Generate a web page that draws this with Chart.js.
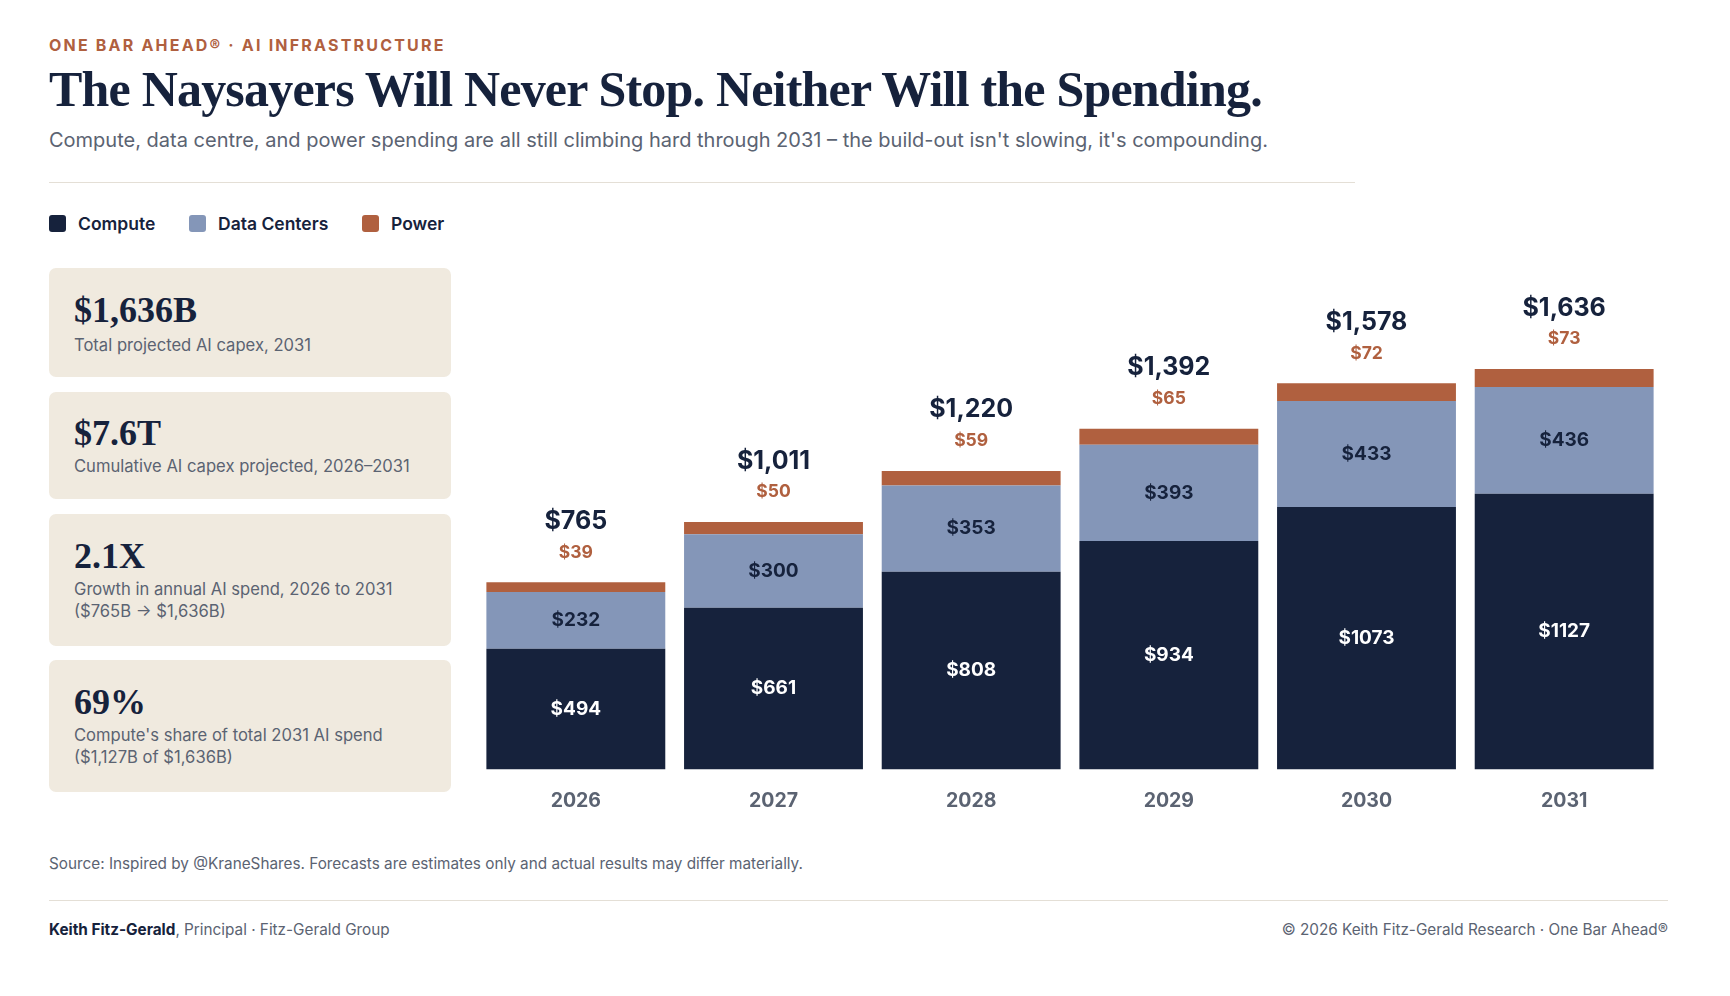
<!DOCTYPE html>
<html>
<head>
<meta charset="utf-8">
<script src="https://cdn.jsdelivr.net/npm/chart.js@4.4.1/dist/chart.umd.min.js"></script>
<style>
  html, body { margin:0; padding:0; background:#ffffff; }
  body { width:1730px; height:996px; position:relative; overflow:hidden; font-family: Inter, "Noto Sans", sans-serif; color:#16223c; }
  .abs { position:absolute; white-space:nowrap; }
  .eyebrow { left:49px; top:35px; line-height:20px; font-size:16px; font-weight:700; letter-spacing:2.2px; color:#b0603f; }
  .title { left:49px; top:59px; line-height:60px; font-family:"Liberation Serif", "DejaVu Serif", serif; font-weight:700; font-size:50px; letter-spacing:-0.8px; color:#16223c; }
  .subtitle { left:49px; top:127px; line-height:26px; font-size:20px; color:#5b6372; }
  .rule1 { left:49px; top:182px; width:1306px; height:1px; background:#e4dfd6; }
  .legend { top:212px; height:22px; display:flex; align-items:center; font-size:17.5px; font-weight:600; color:#16223c; }
  .legend .sw { width:17px; height:17px; border-radius:3px; margin-right:12px; }
  .card { position:absolute; left:49px; width:402px; background:#f0eadf; border-radius:7px; }
  .card .num { position:absolute; left:25px; top:22px; line-height:40px; font-family:"Liberation Serif", "DejaVu Serif", serif; font-weight:700; font-size:36px; color:#16223c; white-space:nowrap; }
  .card .lbl { position:absolute; left:25px; top:66px; line-height:22px; font-size:16.6px; color:#5b6372; white-space:nowrap; }
  .source { left:49px; top:853px; line-height:22px; font-size:15.3px; color:#5b6372; }
  .rule2 { left:49px; top:900px; width:1619px; height:1px; background:#e4dfd6; }
  .foot { top:919px; line-height:22px; font-size:15.3px; color:#5b6372; }
  .foot b { color:#16223c; font-weight:700; }
  #wrap { position:absolute; left:477px; top:240px; width:1186px; height:591px; }
</style>
</head>
<body>
<div class="abs eyebrow">ONE BAR AHEAD® · AI INFRASTRUCTURE</div>
<div class="abs title">The Naysayers Will Never Stop. Neither Will the Spending.</div>
<div class="abs subtitle">Compute, data centre, and power spending are all still climbing hard through 2031 – the build-out isn't slowing, it's compounding.</div>
<div class="abs rule1"></div>

<div class="abs legend" style="left:49px;"><span class="sw" style="background:#16223c"></span>Compute</div>
<div class="abs legend" style="left:189px;"><span class="sw" style="background:#8496b8"></span>Data Centers</div>
<div class="abs legend" style="left:362px;"><span class="sw" style="background:#b0603f"></span>Power</div>

<div class="card" style="top:268px;height:109px;"><div class="num">$1,636B</div><div class="lbl">Total projected AI capex, 2031</div></div>
<div class="card" style="top:392px;height:107px;"><div class="num" style="top:21px">$7.6T</div><div class="lbl" style="top:63px">Cumulative AI capex projected, 2026–2031</div></div>
<div class="card" style="top:514px;height:132px;"><div class="num">2.1X</div><div class="lbl" style="top:64px">Growth in annual AI spend, 2026 to 2031<br>($765B → $1,636B)</div></div>
<div class="card" style="top:660px;height:132px;"><div class="num">69%</div><div class="lbl" style="top:64px">Compute's share of total 2031 AI spend<br>($1,127B of $1,636B)</div></div>

<div id="wrap"><canvas id="c"></canvas></div>

<div class="abs source">Source: Inspired by @KraneShares. Forecasts are estimates only and actual results may differ materially.</div>
<div class="abs rule2"></div>
<div class="abs foot" style="left:49px;"><b>Keith Fitz-Gerald</b>, Principal · Fitz-Gerald Group</div>
<div class="abs foot" style="right:62px;">© 2026 Keith Fitz-Gerald Research · One Bar Ahead®</div>

<script>
const years = ['2026', '2027', '2028', '2029', '2030', '2031'];
const compute = [494, 661, 808, 934, 1073, 1127];
const dataCenters = [232, 300, 353, 393, 433, 436];
const power = [39, 50, 59, 65, 72, 73];

const NAVY = '#16223c', SLATE = '#8496b8', RUST = '#b0603f', GRAY = '#5b6372';

const labelPlugin = {
  id: 'barLabels',
  afterDatasetsDraw(chart) {
    const ctx = chart.ctx;
    ctx.save();
    ctx.textAlign = 'center';
    ctx.textBaseline = 'middle';
    const m0 = chart.getDatasetMeta(0), m1 = chart.getDatasetMeta(1), m2 = chart.getDatasetMeta(2);
    years.forEach((y, i) => {
      const e0 = m0.data[i], e1 = m1.data[i], e2 = m2.data[i];
      ctx.font = '700 19px Inter';
      ctx.fillStyle = '#ffffff';
      ctx.fillText('$' + compute[i], e0.x, (e0.y + e0.base) / 2);
      ctx.fillStyle = NAVY;
      ctx.fillText('$' + dataCenters[i], e1.x, (e1.y + e1.base) / 2);
      const top = e2.y;
      ctx.font = '700 17.5px Inter';
      ctx.fillStyle = RUST;
      ctx.fillText('$' + power[i], e2.x, top - 30);
      const total = compute[i] + dataCenters[i] + power[i];
      ctx.font = '700 25px Inter';
      ctx.fillStyle = NAVY;
      ctx.fillText('$' + total.toLocaleString('en-US'), e2.x, top - 61);
    });
    ctx.restore();
  }
};

new Chart(document.getElementById('c'), {
  type: 'bar',
  data: {
    labels: years,
    datasets: [
      { label: 'Compute', data: compute, backgroundColor: NAVY },
      { label: 'Data Centers', data: dataCenters, backgroundColor: SLATE },
      { label: 'Power', data: power, backgroundColor: RUST }
    ]
  },
  options: {
    responsive: true,
    maintainAspectRatio: false,
    animation: false,
    categoryPercentage: 1,
    barPercentage: 0.905,
    layout: { padding: { top: 40, bottom: 6, left: 0, right: 0 } },
    plugins: { legend: { display: false }, tooltip: { enabled: false } },
    scales: {
      x: {
        stacked: true,
        grid: { display: false },
        border: { display: false },
        ticks: { color: GRAY, font: { family: 'Inter', size: 19.5, weight: '700' }, padding: 12 }
      },
      y: { stacked: true, display: false, min: 0, max: 2000 }
    }
  },
  plugins: [labelPlugin]
});
</script>
</body>
</html>
